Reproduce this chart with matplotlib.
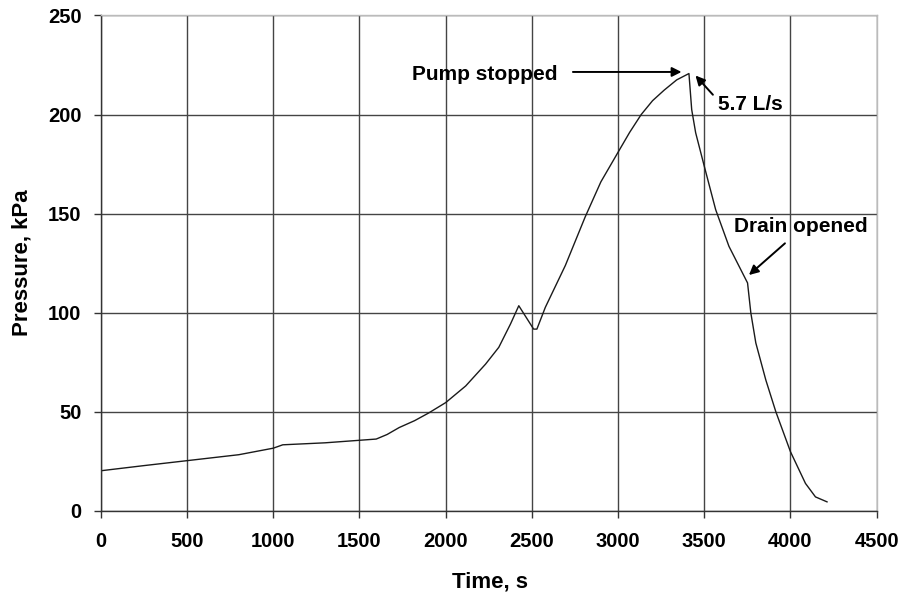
import matplotlib.pyplot as plt

# pressure trace
time_s = [0, 250, 500, 800, 1000, 1055, 1300, 1597, 1660, 1730, 1820, 1900,
          2000, 2116, 2231, 2308, 2376, 2424, 2510, 2529, 2578, 2694, 2809,
          2900, 3000, 3067, 3134, 3200, 3267, 3340, 3411, 3427, 3450, 3500,
          3566, 3643, 3751, 3770, 3799, 3857, 3915, 4000, 4087, 4145, 4212]
pressure_kpa = [20.2, 22.8, 25.3, 28.3, 31.6, 33.3, 34.3, 36.2, 38.5, 42, 45.5, 49.3,
                54.6, 63, 74, 82.5, 94.3, 103.5, 91.7, 91.7, 102.7, 123.8, 148.3,
                166, 181, 191, 200, 207, 212.3, 217.5, 220.7, 202.5, 190.8, 173.9,
                152, 133.5, 115, 99.9, 84.7, 66, 50, 29.8, 13.8, 7, 4.5]

x_ticks = [0, 500, 1000, 1500, 2000, 2500, 3000, 3500, 4000, 4500]
y_ticks = [0, 50, 100, 150, 200, 250]

plt.rcParams['font.family'] = ['Liberation Sans', 'DejaVu Sans']
plt.rcParams['font.weight'] = 'bold'

fig = plt.figure(figsize=(9.01, 5.96), dpi=100)
ax = fig.add_axes([0.112, 0.143, 0.861, 0.831])

ax.plot(time_s, pressure_kpa, color='#1a1a1a', lw=1.0)

ax.set_xlim(0, 4500)
ax.set_ylim(0, 250)
ax.set_xticks(x_ticks)
ax.set_yticks(y_ticks)
ax.grid(True, color='#444444', lw=1.0)
ax.set_axisbelow(True)

ax.tick_params(axis='both', direction='out', length=5, width=1.0,
               labelsize=14.5, color='#333333')
ax.tick_params(axis='x', pad=10)
ax.tick_params(axis='y', pad=9)
for lab in ax.get_xticklabels() + ax.get_yticklabels():
    lab.set_fontweight('bold')

for side in ['left', 'bottom']:
    ax.spines[side].set_color('#333333')
    ax.spines[side].set_linewidth(1.0)
for side in ['top', 'right']:
    ax.spines[side].set_color('#bbbbbb')
    ax.spines[side].set_linewidth(1.0)

ax.set_xlabel('Time, s', fontsize=16, fontweight='bold')
ax.set_ylabel('Pressure, kPa', fontsize=16, fontweight='bold')
ax.xaxis.set_label_coords(0.502, -0.144)
ax.xaxis.label.set_va('center')
ax.yaxis.set_label_coords(-0.102, 0.5)
ax.yaxis.label.set_va('center')

arrow = dict(arrowstyle='-|>', color='black', lw=1.4, mutation_scale=14,
             shrinkA=0, shrinkB=0)

ax.text(1804, 220, 'Pump stopped', fontsize=15, fontweight='bold',
        ha='left', va='center')
ax.annotate('', xy=(3368, 221.5), xytext=(2738, 221.5), arrowprops=arrow)

ax.text(3579, 205, '5.7 L/s', fontsize=15, fontweight='bold',
        ha='left', va='center')
ax.annotate('', xy=(3449, 219.7), xytext=(3550, 210), arrowprops=arrow)

ax.text(3672, 143.4, 'Drain opened', fontsize=15, fontweight='bold',
        ha='left', va='center')
ax.annotate('', xy=(3759, 119), xytext=(3968, 135), arrowprops=arrow)

fig.savefig('out.png', dpi=100)
